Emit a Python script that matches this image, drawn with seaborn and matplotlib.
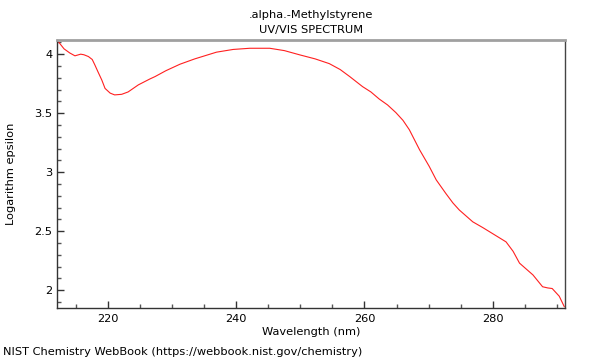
import matplotlib
matplotlib.use("Agg")
import matplotlib.pyplot as plt
import seaborn as sns
import pandas as pd
from matplotlib.ticker import MultipleLocator

# spectrum
wavelength = [212.0, 213.1, 214.0, 214.8, 215.7, 216.2, 216.9, 217.5, 217.9, 218.4,
              219.0, 219.5, 220.3, 221.0, 222.1, 223.1, 224.7, 226.5, 227.3, 229.0,
              231.2, 233.5, 236.9, 239.5, 242.1, 245.2, 247.5, 249.9, 252.3, 254.5,
              256.2, 257.7, 259.7, 261.0, 262.3, 263.6, 264.9, 266.0, 267.0, 268.6,
              270.1, 271.2, 272.7, 273.8, 274.8, 276.9, 278.5, 280.0, 282.1, 283.2,
              284.2, 286.3, 287.8, 288.6, 289.3, 290.4, 291.2]
log_eps = [4.12, 4.045, 4.01, 3.986, 4.00, 3.995, 3.98, 3.955, 3.91, 3.85,
           3.78, 3.71, 3.67, 3.655, 3.66, 3.68, 3.74, 3.79, 3.81, 3.86,
           3.915, 3.96, 4.017, 4.04, 4.05, 4.05, 4.03, 3.994, 3.96, 3.92,
           3.87, 3.81, 3.725, 3.68, 3.62, 3.57, 3.505, 3.44, 3.36, 3.19,
           3.05, 2.935, 2.82, 2.74, 2.68, 2.58, 2.53, 2.48, 2.41, 2.33,
           2.23, 2.13, 2.03, 2.02, 2.015, 1.95, 1.86]

df = pd.DataFrame({"Wavelength": wavelength, "LogEps": log_eps})

sns.set_style("white")
plt.rcParams['font.family'] = ['DejaVu Sans']
plt.rcParams['text.color'] = 'black'
plt.rcParams['axes.labelcolor'] = 'black'
plt.rcParams['xtick.color'] = 'black'
plt.rcParams['ytick.color'] = 'black'

fig = plt.figure(figsize=(6, 3.6), dpi=100)
ax = fig.add_axes([57/600, 1-308/360, 508/600, 268/360])

sns.lineplot(data=df, x="Wavelength", y="LogEps", ax=ax, color="#ff2020", linewidth=0.8)

ax.set_xlim(212, 291.3)
ax.set_ylim(1.85, 4.12)
ax.xaxis.set_major_locator(MultipleLocator(20))
ax.xaxis.set_minor_locator(MultipleLocator(5))
ax.yaxis.set_major_locator(MultipleLocator(0.5))
ax.yaxis.set_minor_locator(MultipleLocator(0.1))
ax.yaxis.set_major_formatter(plt.FuncFormatter(lambda v, p: f"{v:g}"))
ax.tick_params(which="both", bottom=True, left=True, top=False, right=False)
ax.tick_params(which="major", direction="in", length=5, width=1, color="#333333", labelsize=8.2)
ax.tick_params(which="minor", direction="in", length=3, width=1, color="#555555")
ax.tick_params(axis="x", pad=4)

for side in ["left", "bottom"]:
    ax.spines[side].set_color("#333333")
    ax.spines[side].set_linewidth(1)
ax.spines["right"].set_color("#444444")
ax.spines["right"].set_linewidth(1)
ax.spines["top"].set_color("#a0a0a0")
ax.spines["top"].set_linewidth(2)

ax.set_xlabel("Wavelength (nm)", fontsize=8.2, labelpad=2.5)
ax.set_ylabel("Logarithm epsilon", fontsize=8.2, labelpad=13)
ax.set_title(".alpha.-Methylstyrene\nUV/VIS SPECTRUM", fontsize=8.2, pad=5, linespacing=1.6)

fig.text(3/600, 1-352/360, "NIST Chemistry WebBook (https://webbook.nist.gov/chemistry)",
         fontsize=8.2, ha="left", va="center")

fig.savefig("out.png", dpi=100)
